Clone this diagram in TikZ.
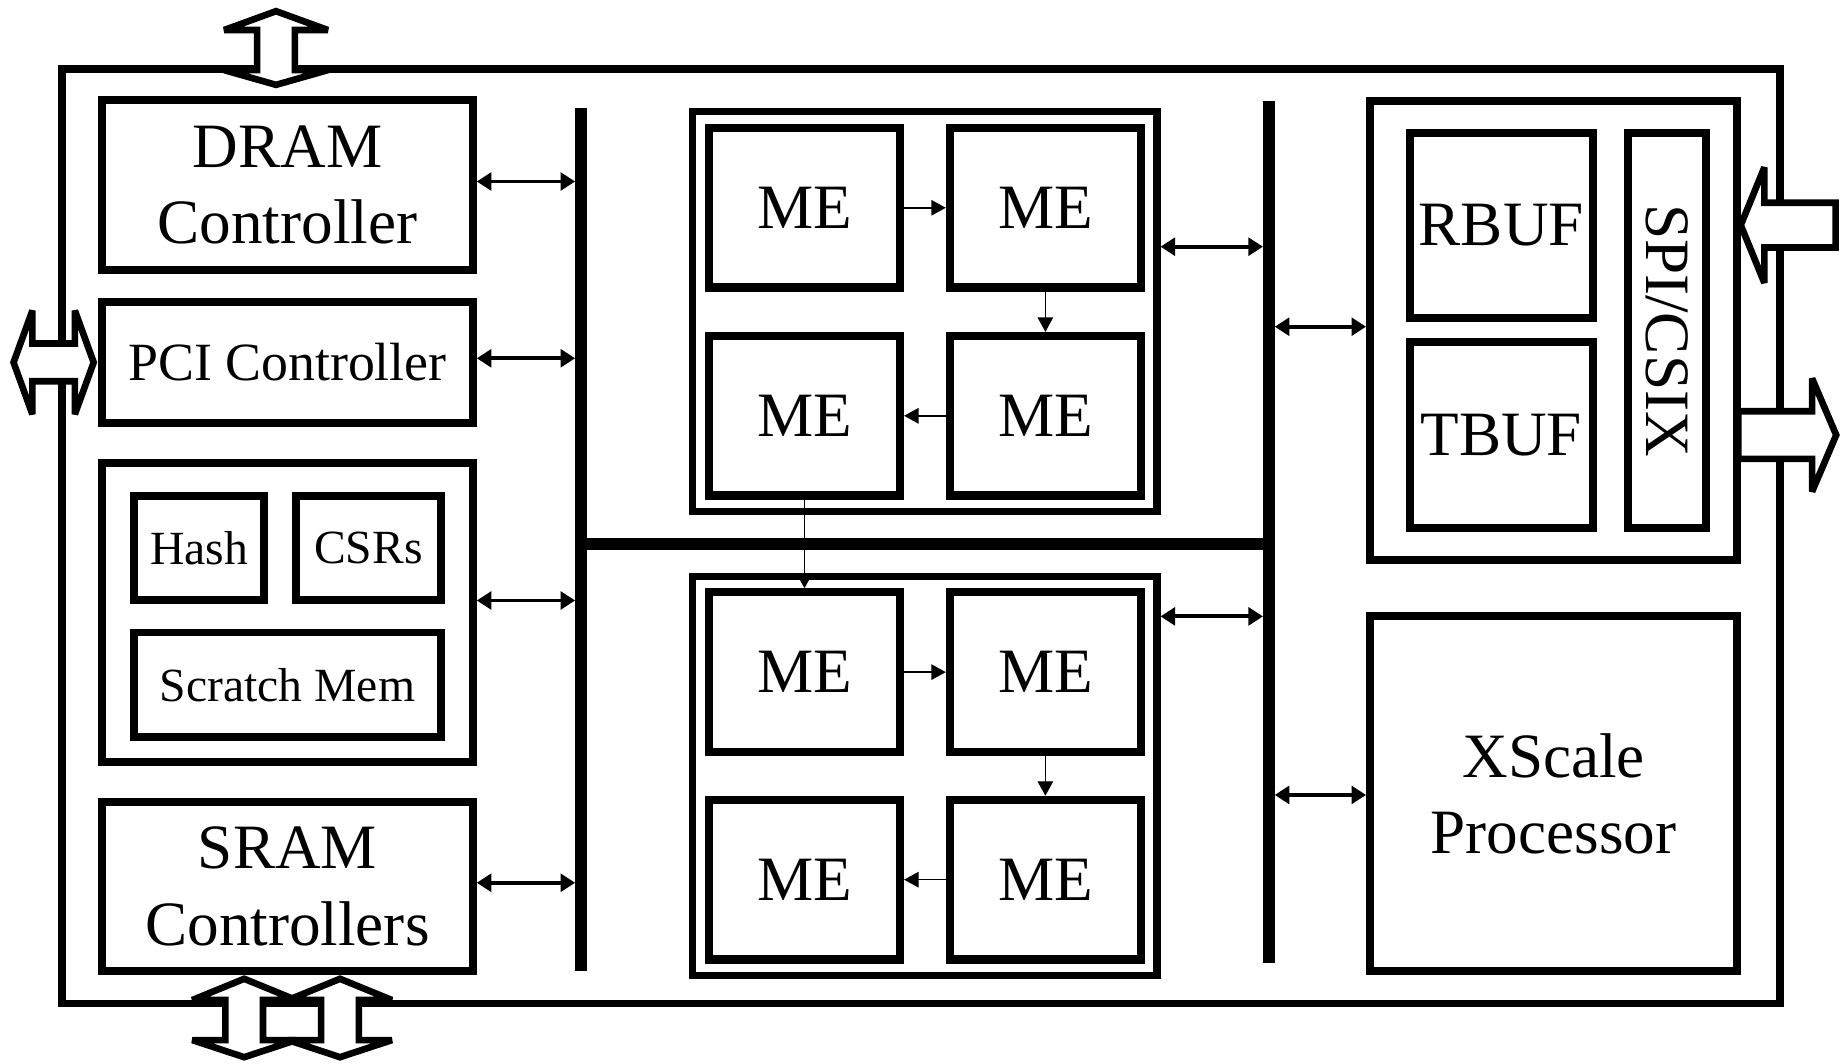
\documentclass[tikz,border=0pt]{standalone}
\usepackage{fontspec}
\usepackage{graphicx}
\setmainfont{Liberation Serif}
\usetikzlibrary{arrows.meta}
% one drawing unit
\newcommand{\pxu}{0.02cm}
% vertical double-headed I/O arrow: centre, upper tip length, lower tip length
\newcommand{\vio}[3]{\draw[io, shift={(#1)}] (0,-#2) -- (44,-17) -- (16,-17) -- (16,17) -- (44,17) -- (0,#3) -- (-44,17) -- (-16,17) -- (-16,-17) -- (-44,-17) -- cycle;}

\begin{document}
\begin{tikzpicture}[x=0.02cm, y=-0.02cm,
  sz/.style 2 args={minimum width=#1*\pxu, minimum height=#2*\pxu},
  blk/.style={draw, line width=3.8pt, inner sep=0pt, align=center,
              font=\fontsize{30.5}{37}\selectfont},
  small/.style={font=\fontsize{23}{27}\selectfont},
  me/.style={blk, line width=4pt, sz={162}{135.4}},
  cluster/.style={draw, line width=3.4pt, inner sep=0pt, sz={394}{339}},
  bus/.style={fill=black, draw=none, inner sep=0pt, outer sep=0pt},
  link/.style={line width=1.9pt,
               {Triangle[length=7pt,width=8.5pt]}-{Triangle[length=7pt,width=8.5pt]}},
  flow/.style={line width=0.7pt, -{Triangle[length=7pt,width=7.5pt]}},
  io/.style={draw, fill=white, line width=3.2pt, line join=miter, miter limit=2},
]
\useasboundingbox (0,0) rectangle (1568,902);

% chip outline
\node[blk, sz={1457.8}{793}] (chip) at (781.4,455) {};

% left column
\node[blk, sz={314.6}{143.7}] (dram) at (243.9,157) {DRAM\\Controller};
\node[blk, sz={314.6}{102.7}, font=\fontsize{26}{30}\selectfont] (pci) at (243.9,307.6) {PCI Controller};
\node[blk, sz={314.6}{253.9}] (grp) at (243.9,519.7) {};
\node[blk, small, sz={110}{88.5}] (hash) at (168.9,465.2) {Hash};
\node[blk, small, sz={122.8}{88.5}] (csr) at (312.5,465.2) {CSRs};
\node[blk, small, sz={260}{88.7}] (scr) at (243.9,581) {Scratch Mem};
\node[blk, sz={314.6}{143.5}] (sram) at (243.9,752.3) {SRAM\\Controllers};

% buses
\node[bus, sz={10}{732.3}] (lbus) at (493,458) {};
\node[bus, sz={10}{732}] (rbus) at (1076.6,451.4) {};
\node[bus, sz={583.6}{10}] (hbus) at (784.8,461.3) {};

% microengine clusters
\node[cluster] (cu) at (784.7,264.3) {};
\node[cluster] (cl) at (784.7,658.4) {};
\node[me] (meA) at (682.6,176.3) {ME};
\node[me] (meB) at (887,176.3) {ME};
\node[me] (meC) at (682.6,352.8) {ME};
\node[me] (meD) at (887,352.8) {ME};
\node[me] (meE) at (682.6,570.3) {ME};
\node[me] (meF) at (887,570.3) {ME};
\node[me] (meG) at (682.6,746.4) {ME};
\node[me] (meH) at (887,746.4) {ME};

% media interface and core
\node[blk, sz={311.6}{389.2}] (rx) at (1318.2,280.3) {};
\node[blk, sz={155}{157}] (rbuf) at (1273.8,191.3) {RBUF};
\node[blk, sz={155}{157.8}] (tbuf) at (1273.8,369.1) {TBUF};
\node[blk, sz={66.5}{335.2}] (spi) at (1414.3,280.4) {\rotatebox{-90}{SPI/CSIX}};
\node[blk, sz={311.6}{301}] (xs) at (1318.2,673.5) {XScale\\Processor};

% bus connections
\coordinate (l1) at (0,154);
\coordinate (l2) at (0,304);
\coordinate (l3) at (0,509.5);
\coordinate (l4) at (0,749);
\coordinate (r1) at (0,209.3);
\coordinate (r2) at (0,523);
\coordinate (r3) at (0,277.2);
\coordinate (r4) at (0,674.5);
\draw[link] (dram.east |- l1) -- (lbus.west |- l1);
\draw[link] (pci.east |- l2) -- (lbus.west |- l2);
\draw[link] (grp.east |- l3) -- (lbus.west |- l3);
\draw[link] (sram.east |- l4) -- (lbus.west |- l4);
\draw[link] (cu.east |- r1) -- (rbus.west |- r1);
\draw[link] (cl.east |- r2) -- (rbus.west |- r2);
\draw[link] (rbus.east |- r3) -- (rx.west |- r3);
\draw[link] (rbus.east |- r4) -- (xs.west |- r4);

% microengine pipeline
\draw[flow] (meA.east) -- (meB.west);
\draw[flow] (meB.south) -- (meD.north);
\draw[flow] (meD.west) -- (meC.east);
\draw[flow] (meC.south) -- (meE.north);
\draw[flow] (meE.east) -- (meF.west);
\draw[flow] (meF.south) -- (meH.north);
\draw[flow] (meH.west) -- (meG.east);

% external interfaces
\coordinate (dramio) at (234.2,42.5);
\coordinate (sramioA) at (207.2,865.5);
\coordinate (sramioB) at (288.5,865.5);
\coordinate (pciio) at (45.5,307.5);
\coordinate (rxin) at (1477,191);
\coordinate (txout) at (1475,369.1);
\vio{dramio}{33}{29.5}
\vio{sramioA}{35}{31.5}
\vio{sramioB}{35}{31.5}
\draw[io, shift={(pciio)}] (-34,0) -- (-18,-44) -- (-18,-16) -- (18,-16) -- (18,-44) -- (34,0)
   -- (18,44) -- (18,16) -- (-18,16) -- (-18,44) -- cycle;
\draw[io, shift={(rxin)}] (0,0) -- (20,-49) -- (20,-19) -- (80.5,-19) -- (80.5,19)
   -- (20,19) -- (20,49) -- cycle;
\draw[io, shift={(txout)}] (0,-20.2) -- (62.5,-20.2) -- (62.5,-48) -- (83,0) -- (62.5,48)
   -- (62.5,20.2) -- (0,20.2) -- cycle;
\end{tikzpicture}
\end{document}
